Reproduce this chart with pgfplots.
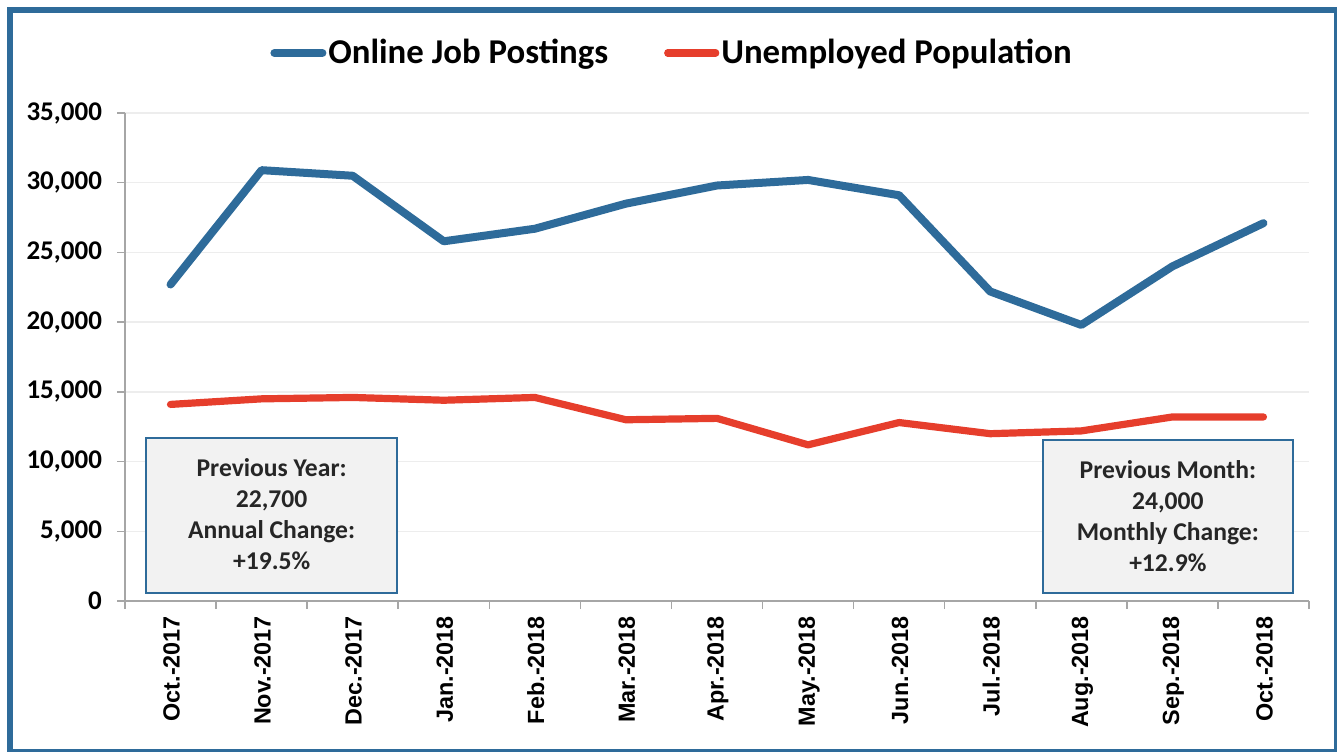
\documentclass[border=0pt]{standalone}
\usepackage{pgfplots}
\pgfplotsset{compat=1.18}
\usepackage{fontspec}
\setmainfont{Carlito}
\newfontfamily\arialfont{Liberation Sans}

\definecolor{frameblue}{HTML}{2E6B9A}
\definecolor{jobblue}{HTML}{2E6B9A}
\definecolor{unempred}{HTML}{E63E2C}
\definecolor{gridgray}{HTML}{EDEDED}
\definecolor{axisgray}{HTML}{A6A6A6}
\definecolor{boxfill}{HTML}{F2F2F2}
\definecolor{txt}{HTML}{262626}

\begin{document}
\begin{tikzpicture}
\useasboundingbox (-62.5pt,-75.5pt) rectangle (607pt,300.5pt);
% outer frame, thinner on the right and bottom as in the original
\draw[frameblue, line width=3pt] (-57.5pt,-74.5pt) -- (-57.5pt,295.5pt) -- (605.25pt,295.5pt);
\draw[frameblue, line width=1.5pt] (605.25pt,296.9pt) -- (605.25pt,-74.5pt) -- (-58.9pt,-74.5pt);

\begin{axis}[
    width=592pt, height=244pt, scale only axis,
    xmin=-0.5, xmax=12.5,
    ymin=0, ymax=35000,
    axis x line*=bottom, axis y line*=left,
    axis line style={axisgray, line width=0.75pt},
    tick align=outside,
    major tick length=4pt,
    tick style={axisgray, line width=0.75pt},
    xtick={-0.5,0.5,...,12.5},
    xticklabels={},
    extra x ticks={0,1,...,12},
    extra x tick labels={Oct.-2017,Nov.-2017,Dec.-2017,Jan.-2018,Feb.-2018,Mar.-2018,Apr.-2018,May.-2018,Jun.-2018,Jul.-2018,Aug.-2018,Sep.-2018,Oct.-2018},
    extra x tick style={grid=none, tick style={draw=none}},
    xticklabel style={rotate=90, anchor=east, yshift=-0.5pt, font=\arialfont\fontsize{11.7}{12}\selectfont\bfseries},
    ytick={0,5000,...,35000},
    scaled y ticks=false,
    /pgf/number format/assume math mode=true,
    yticklabel style={font=\fontsize{13.5}{13.5}\selectfont\bfseries, xshift=-4pt},
    ymajorgrids=true,
    grid style={gridgray, line width=0.75pt},
    legend columns=2,
    legend style={at={(0.462,1.123)}, anchor=center, draw=none, fill=none,
        font=\fontsize{17.4}{17.4}\selectfont\bfseries,
        nodes={inner sep=1pt},
        /tikz/every even column/.append style={column sep=27pt}},
    legend image code/.code={\draw[#1] plot coordinates {(2pt,0pt) (26pt,0pt)};},
]

\addplot[jobblue, line width=4pt, line join=round, line cap=round] coordinates {
    (0,22700) (1,30900) (2,30500) (3,25800) (4,26700) (5,28500) (6,29800)
    (7,30200) (8,29100) (9,22200) (10,19800) (11,24000) (12,27100)
};
\addlegendentry{Online Job Postings}

\addplot[unempred, line width=3.6pt, line join=round, line cap=round] coordinates {
    (0,14100) (1,14500) (2,14600) (3,14400) (4,14600) (5,13000) (6,13100)
    (7,11200) (8,12800) (9,12000) (10,12200) (11,13200) (12,13200)
};
\addlegendentry{Unemployed Population}

\draw[frameblue, line width=1pt, fill=boxfill] (axis cs:-0.27,570) rectangle (axis cs:2.49,11690);
\node[align=center, text=txt, font=\fontsize{12.8}{15.5}\selectfont\bfseries]
    at (axis cs:1.11,6200) {Previous Year:\\22,700\\Annual Change:\\+19.5\%};

\draw[frameblue, line width=1pt, fill=boxfill] (axis cs:9.58,570) rectangle (axis cs:12.32,11550);
\node[align=center, text=txt, font=\fontsize{12.8}{15.5}\selectfont\bfseries]
    at (axis cs:10.95,6100) {Previous Month:\\24,000\\Monthly Change:\\+12.9\%};
\end{axis}
\end{tikzpicture}
\end{document}
